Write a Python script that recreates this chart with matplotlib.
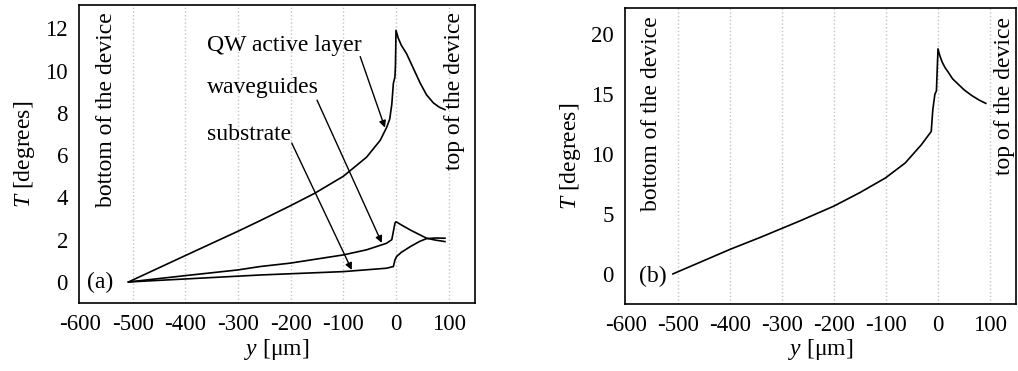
import matplotlib
matplotlib.use('Agg')
import matplotlib.pyplot as plt

plt.rcParams['font.family'] = ['Liberation Serif', 'DejaVu Serif']
plt.rcParams['mathtext.fontset'] = 'custom'
plt.rcParams['mathtext.it'] = 'Liberation Serif:italic'
plt.rcParams['mathtext.rm'] = 'Liberation Serif'

# panel (a): temperature rise of the three regions
qw_x = [-508, -400, -300, -258, -201, -154, -100, -56, -30, -18, -12, -8, -5, -2, -1, 0,
        4, 10, 20, 33, 46, 58, 71, 82, 93]
qw_y = [0, 1.25, 2.4, 2.9, 3.6, 4.2, 5.0, 5.9, 6.7, 7.3, 7.7, 8.4, 9.4, 9.7, 10.3, 11.9,
        11.55, 11.2, 10.8, 10.1, 9.4, 8.85, 8.47, 8.27, 8.15]

wg_x = [-508, -400, -300, -258, -201, -100, -56, -18, -8, -2, 0, 10, 27, 58, 75, 93]
wg_y = [0, 0.3, 0.57, 0.73, 0.89, 1.28, 1.52, 1.83, 2.0, 2.78, 2.85, 2.7, 2.46, 2.07, 1.98, 1.91]

sub_x = [-508, -258, -100, -18, -5, -2, 1, 10, 27, 45, 58, 75, 93]
sub_y = [0, 0.33, 0.49, 0.65, 0.73, 1.04, 1.2, 1.4, 1.67, 1.92, 2.05, 2.08, 2.07]

# panel (b)
b_x = [-510, -399, -342, -266, -200, -150, -101, -63, -32, -13, -10, -6, -3, 0,
       3, 8, 14, 19, 28, 40, 51, 65, 80, 92]
b_y = [0, 2.07, 3.05, 4.42, 5.67, 6.8, 8.02, 9.27, 10.79, 11.9, 13.7, 15.0, 15.3, 18.8,
       18.3, 17.7, 17.2, 16.9, 16.3, 15.8, 15.35, 14.9, 14.5, 14.25]

xticks = [-600, -500, -400, -300, -200, -100, 0, 100]
yticks_a = [0, 2, 4, 6, 8, 10, 12]
yticks_b = [0, 5, 10, 15, 20]

fig = plt.figure(figsize=(10.18, 3.71), dpi=100)
ax1 = fig.add_axes([0.0776, 0.183, 0.389, 0.8035])
ax2 = fig.add_axes([0.614, 0.181, 0.384, 0.797])

fs = 17
for ax in (ax1, ax2):
    ax.set_xlim(-602, 150)
    ax.set_xticks(xticks)
    ax.set_xticklabels([str(t) for t in xticks])
    for t in xticks[1:]:
        ax.axvline(t, color='#c4c4c4', linestyle=':', linewidth=1.0, zorder=0)
    ax.tick_params(length=0, labelsize=16.5, pad=8)
    ax.set_xlabel(r'$y$ [$\mathrm{\mu}$m]', fontsize=fs, labelpad=1)
    ax.set_ylabel(r'$T$ [degrees]', fontsize=fs, labelpad=6)
    for s in ax.spines.values():
        s.set_linewidth(1.2)

ax1.set_ylim(-1.0, 13.1)
ax1.set_yticks(yticks_a)
ax1.plot(qw_x, qw_y, color='black', lw=1.2)
ax1.plot(wg_x, wg_y, color='black', lw=1.2)
ax1.plot(sub_x, sub_y, color='black', lw=1.2)

arrow = dict(arrowstyle='-|>', color='black', lw=1.0, mutation_scale=10, shrinkA=0, shrinkB=0)
ax1.text(-359, 11.2, 'QW active layer', fontsize=fs, va='center', ha='left')
ax1.annotate('', xy=(-21, 7.3), xytext=(-68, 10.66), arrowprops=arrow)
ax1.text(-359, 9.2, 'waveguides', fontsize=fs, va='center', ha='left')
ax1.annotate('', xy=(-27, 1.85), xytext=(-150, 8.6), arrowprops=arrow)
ax1.text(-359, 6.97, 'substrate', fontsize=fs, va='center', ha='left')
ax1.annotate('', xy=(-84, 0.57), xytext=(-198, 6.57), arrowprops=arrow)

ax1.text(-587, 0, '(a)', fontsize=fs, ha='left', va='center')
ax1.text(-549, 12.75, 'bottom of the device', rotation=90, fontsize=fs, ha='center', va='top')
ax1.text(112, 12.75, 'top of the device', rotation=90, fontsize=fs, ha='center', va='top')

ax2.set_ylim(-2.5, 22.2)
ax2.set_yticks(yticks_b)
ax2.plot(b_x, b_y, color='black', lw=1.2)
ax2.text(-576, -0.25, '(b)', fontsize=fs, ha='left', va='center')
ax2.text(-551, 21.5, 'bottom of the device', rotation=90, fontsize=fs, ha='center', va='top')
ax2.text(127, 21.5, 'top of the device', rotation=90, fontsize=fs, ha='center', va='top')

fig.savefig('out.png', dpi=100)
